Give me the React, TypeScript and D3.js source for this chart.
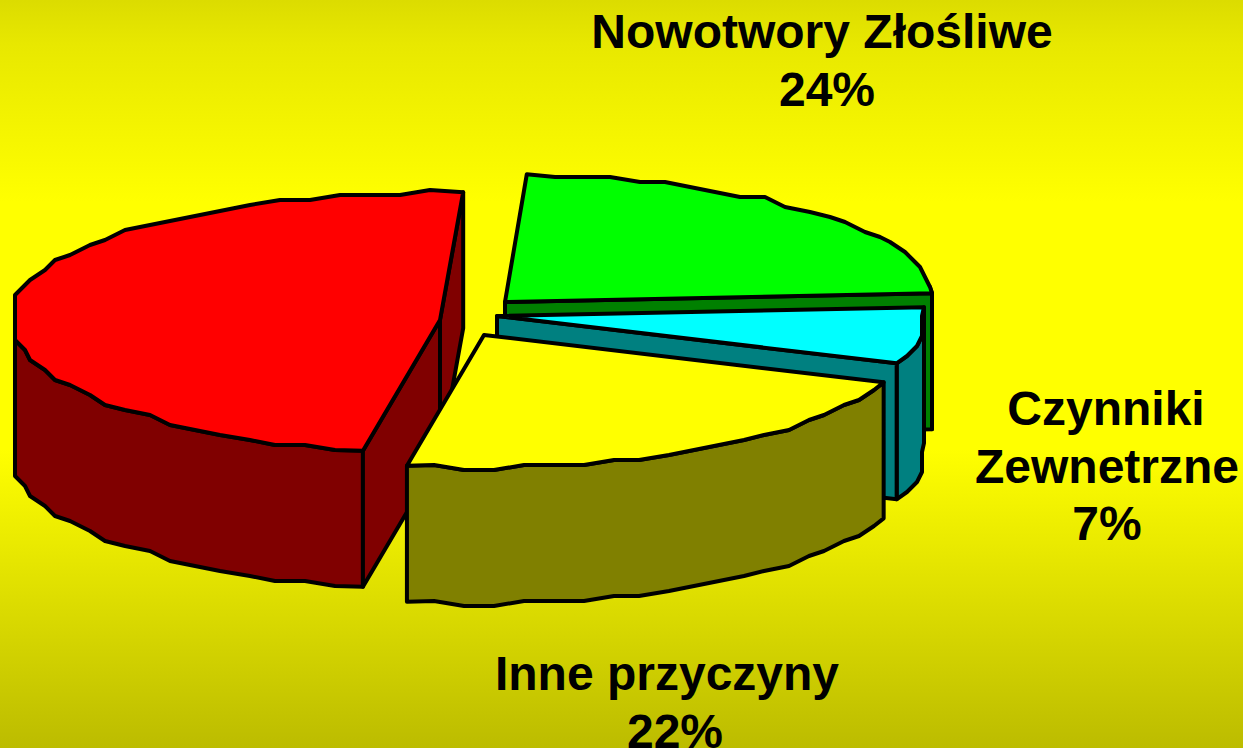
import React from "react";
import * as d3 from "d3";

// ---- data ----
const sliceNames = ["Nowotwory Złośliwe", "Czynniki Zewnetrzne", "Inne przyczyny", "Pozostałe"];
const sliceValues = [24, 7, 22, 47];
const topColors = ["#00ff00", "#00ffff", "#ffff00", "#ff0000"];
const wallColors = ["#008000", "#008080", "#808000", "#800000"];

// ---- layout ----
const W = 1243;
const H = 748;
const explodeX = [505, 497, 484, 440];
const explodeY = [302, 316, 335, 320];
const paintOrder = [0, 1, 3, 2];
const DEPTH = 136;
const RX = 430;
const CLAMP_X = 427;
const RY_BACK = 128;
const RY_FRONT = 133;
const SAG = 2;
const STEP = (4 * Math.PI) / 180;
const GRID = 5;
const DEG = Math.PI / 180;

const labels = [
  { text: "Nowotwory Złośliwe", x: 822, y: 48 },
  { text: "24%", x: 827, y: 106 },
  { text: "Czynniki", x: 1106, y: 425 },
  { text: "Zewnetrzne", x: 1107, y: 483 },
  { text: "7%", x: 1107, y: 540 },
  { text: "Inne przyczyny", x: 667, y: 690 },
  { text: "22%", x: 675, y: 748 },
];

type P = [number, number];

// perspective of the tilted pie slightly warps true angles
const warp = (a: number) => a - 3.5 * DEG * Math.sin(a / 2);

const project = (a: number): P => {
  const t = warp(a);
  const c = Math.cos(t);
  const s = Math.sin(t);
  const x = Math.max(-CLAMP_X, Math.min(CLAMP_X, RX * s));
  const y = -c * (c > 0 ? RY_BACK : RY_FRONT) - SAG * s * s;
  return [x, y];
};

const wobble = (v: number) => Math.round(v / GRID) * GRID;

const line = d3
  .line<P>()
  .x((d) => d[0])
  .y((d) => d[1])
  .curve(d3.curveLinear);

export default function App() {
  const arcs = d3
    .pie<number>()
    .sort(null)
    .startAngle(3 * DEG)
    .endAngle(363 * DEG)(sliceValues);

  const slices = arcs.map((arc, i) => {
    const cx = explodeX[i];
    const cy = explodeY[i];
    const n = Math.max(2, Math.round((arc.endAngle - arc.startAngle) / STEP));
    const angles = d3.range(n + 1).map((k) => arc.startAngle + ((arc.endAngle - arc.startAngle) * k) / n);
    const rim: P[] = angles.map((a, k) => {
      const [x, y] = project(a);
      const endPoint = k === 0 || k === n;
      return [cx + (endPoint ? x : wobble(x)), cy + (endPoint ? y : wobble(y))];
    });
    const down = (p: P): P => [p[0], p[1] + DEPTH];
    const apex: P = [cx, cy];
    const first = rim[0];
    const last = rim[rim.length - 1];
    // the outer wall only exists on the part of the rim facing the viewer
    const front = rim.filter((_, k) => Math.cos(warp(angles[k])) < 0.17);
    const wall = front.length > 1 ? [...front, ...front.slice().reverse().map(down)] : [];
    const top = [apex, ...rim];
    const faces: P[][] = [];
    if (Math.sin(warp(arc.startAngle)) < 0) faces.push([apex, first, down(first), down(apex)]);
    if (Math.sin(warp(arc.endAngle)) > 0) faces.push([apex, last, down(last), down(apex)]);
    return { i, wall, top, faces };
  });

  const stroke = { stroke: "#000", strokeWidth: 4, strokeLinejoin: "round" as const };

  return (
    <svg
      width={W}
      height={H}
      viewBox={`0 0 ${W} ${H}`}
      style={{ position: "fixed", left: 0, top: 0, display: "block" }}
    >
      <defs>
        <linearGradient id="bg" x1="0" y1="0" x2="0" y2="1">
          <stop offset="0" stopColor="#dcdc00" />
          <stop offset="0.06" stopColor="#e8e800" />
          <stop offset="0.27" stopColor="#ffff00" />
          <stop offset="0.6" stopColor="#ffff00" />
          <stop offset="1" stopColor="#bcbc00" />
        </linearGradient>
      </defs>
      <rect width={W} height={H} fill="url(#bg)" />
      {paintOrder.map((idx) => {
        const s = slices[idx];
        return (
          <g key={sliceNames[idx]}>
            {s.wall.length > 0 && <path d={line(s.wall) + "Z"} fill={wallColors[idx]} {...stroke} />}
            {s.faces.map((f, j) => (
              <path key={j} d={line(f) + "Z"} fill={wallColors[idx]} {...stroke} />
            ))}
            <path d={line(s.top) + "Z"} fill={topColors[idx]} {...stroke} />
          </g>
        );
      })}
      {labels.map((l) => (
        <text
          key={l.text}
          x={l.x}
          y={l.y}
          textAnchor="middle"
          fontFamily="'Liberation Sans', Arial, sans-serif"
          fontWeight="bold"
          fontSize={48}
          fill="#000"
        >
          {l.text}
        </text>
      ))}
    </svg>
  );
}
